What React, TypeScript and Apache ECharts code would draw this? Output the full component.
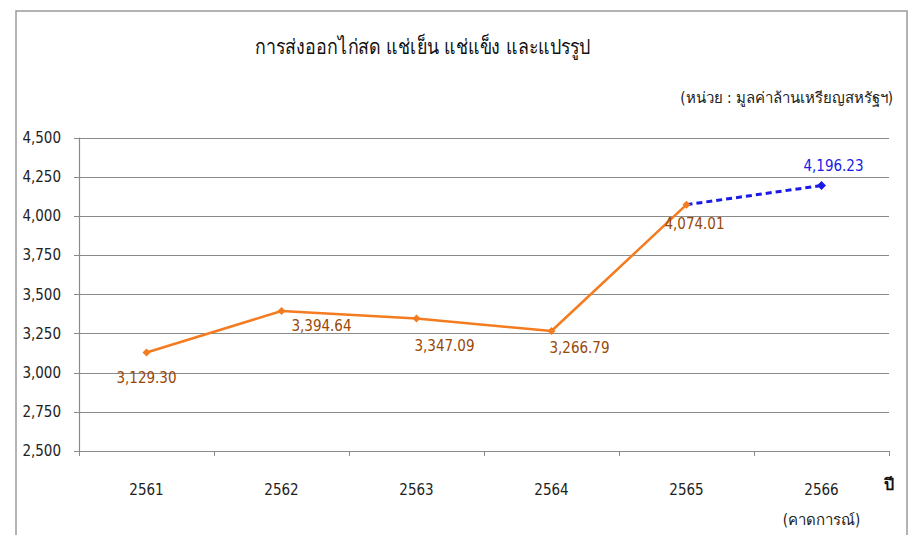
import React, { useEffect, useRef } from "react";
import * as echarts from "echarts";

const categories = ["2561", "2562", "2563", "2564", "2565", "2566"];
const actualValues: (number | string)[] = [3129.3, 3394.64, 3347.09, 3266.79, 4074.01, "-"];
const forecastValues: (number | string)[] = ["-", "-", "-", "-", 4074.01, 4196.23];
const yTicks = { min: 2500, max: 4500, interval: 250 };
const titleText = "การส่งออกไก่สด แช่เย็น แช่แข็ง และแปรรูป";
const unitText = "(หน่วย : มูลค่าล้านเหรียญสหรัฐฯ)";
const forecastNote = "(คาดการณ์)";
const xAxisName = "ปี";

const FONT = "'Liberation Sans Narrow', 'DejaVu Sans Condensed', 'Noto Sans', sans-serif";

export default function App() {
  const ref = useRef<HTMLDivElement>(null);
  useEffect(() => {
    document.body.style.margin = "0";
    const chart = echarts.init(ref.current!, null, { renderer: "svg" });
    const labelOffsets = [[0, 8], [40, -2], [28, 10], [28, 0], [8, 2]];
    const fmt = (p: any) =>
      Number(p.value).toLocaleString("en-US", { minimumFractionDigits: 2, maximumFractionDigits: 2 });
    chart.setOption({
      animation: false,
      backgroundColor: "#ffffff",
      textStyle: { fontFamily: FONT },
      graphic: [
        {
          type: "rect",
          shape: { x: 16, y: 11, width: 891, height: 540 },
          style: { fill: "none", stroke: "#9a9a9a", lineWidth: 1.5 },
          silent: true,
        },
        {
          type: "text",
          x: 255,
          y: 36,
          scaleX: 0.85,
          style: { text: titleText, fontSize: 21, fill: "#111", fontFamily: FONT },
        },
        {
          type: "text",
          right: 22,
          top: 90,
          style: { text: unitText, fontSize: 15, fill: "#222", fontFamily: FONT },
        },
        {
          type: "text",
          x: 884,
          y: 476,
          style: { text: xAxisName, fontSize: 16, fontWeight: "bold", fill: "#111", fontFamily: FONT },
        },
      ],
      grid: { left: 79, right: 26, top: 138, bottom: 81, containLabel: false },
      xAxis: {
        type: "category",
        data: categories,
        boundaryGap: true,
        axisLine: { lineStyle: { color: "#8a8a8a", width: 1.2 } },
        axisTick: { show: true, length: 5, lineStyle: { color: "#8a8a8a" } },
        axisLabel: {
          color: "#222",
          fontSize: 15,
          margin: 24,
          lineHeight: 30,
          fontFamily: FONT,
          formatter: (v: string) => (v === "2566" ? v + "\n" + forecastNote : v),
        },
      },
      yAxis: {
        type: "value",
        min: yTicks.min,
        max: yTicks.max,
        interval: yTicks.interval,
        axisLine: { show: true, lineStyle: { color: "#8a8a8a", width: 1.2 } },
        axisTick: { show: true, length: 5, lineStyle: { color: "#8a8a8a" } },
        splitLine: { lineStyle: { color: "#8a8a8a", width: 1.2 } },
        axisLabel: {
          color: "#222",
          fontSize: 15,
          margin: 18,
          fontFamily: FONT,
          formatter: (v: number) => v.toLocaleString("en-US"),
        },
      },
      series: [
        {
          type: "line",
          data: actualValues.map((v, i) => ({
            value: v,
            label: { offset: labelOffsets[i] || [0, 0] },
          })),
          z: 3,
          symbol: "diamond",
          symbolSize: 8,
          lineStyle: { color: "#f47b20", width: 2.5 },
          itemStyle: { color: "#f47b20" },
          label: {
            show: true,
            position: "bottom",
            distance: 6,
            color: "#984807",
            fontSize: 15,
            fontFamily: FONT,
            formatter: fmt,
          },
        },
        {
          type: "line",
          z: 2,
          data: forecastValues.map((v, i) =>
            i === 5
              ? {
                  value: v,
                  symbol: "diamond",
                  symbolSize: 9,
                  label: { show: true, offset: [12, 0] },
                }
              : { value: v, symbol: "none", label: { show: false } }
          ),
          showAllSymbol: true,
          lineStyle: { color: "#1a1ae6", width: 3, type: [6, 4] },
          itemStyle: { color: "#1a1ae6" },
          label: {
            show: false,
            position: "top",
            distance: 8,
            color: "#1a1ae6",
            fontSize: 15,
            fontFamily: FONT,
            formatter: fmt,
          },
        },
      ],
    });
    return () => chart.dispose();
  }, []);
  return <div ref={ref} style={{ width: 915, height: 535 }} />;
}
